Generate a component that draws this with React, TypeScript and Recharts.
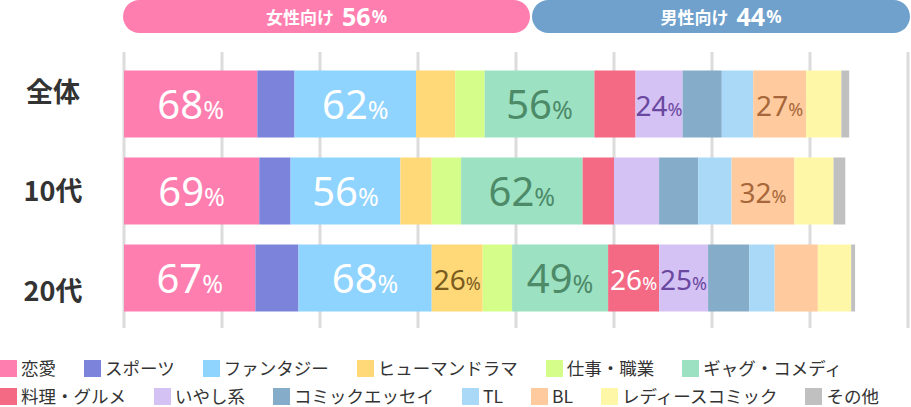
import React from "react";
import { BarChart, Bar, XAxis, YAxis, CartesianGrid, LabelList } from "recharts";

// rows (age groups)
const groups = ["全体", "10代", "20代"];

// genres, in stacking order
const genres = [
  "恋愛",
  "スポーツ",
  "ファンタジー",
  "ヒューマンドラマ",
  "仕事・職業",
  "ギャグ・コメディ",
  "料理・グルメ",
  "いやし系",
  "コミックエッセイ",
  "TL",
  "BL",
  "レディースコミック",
  "その他",
];

const genreColors = [
  "#FF7EB0",
  "#7B83DB",
  "#8FD3FF",
  "#FFD978",
  "#D5FD8A",
  "#9DE1C3",
  "#F46A85",
  "#D5C2F5",
  "#85ACC8",
  "#AAD9F8",
  "#FFCB9E",
  "#FFF7A8",
  "#C0C0C0",
];

const labelColors = [
  "#FFFFFF",
  "#FFFFFF",
  "#FFFFFF",
  "#7A5C1E",
  "#4C8A68",
  "#4C8A68",
  "#FFFFFF",
  "#6B48A0",
  "#FFFFFF",
  "#FFFFFF",
  "#A8673A",
  "#FFFFFF",
  "#FFFFFF",
];

// % per genre (multiple answers), one array per row
const valuesAll = [68, 19, 62, 20, 15, 56, 21, 24, 20, 16, 27, 18, 4];
const valuesTeens = [69, 16, 56, 16, 15, 62, 16, 23, 20, 17, 32, 20, 6];
const valuesTwenties = [67, 22, 68, 26, 15, 49, 26, 25, 21, 13, 22, 17, 2];

const xTicks = [0, 50, 100, 150, 200, 250, 300, 350, 400];

// header pills
const audienceLabels = ["女性向け", "男性向け"];
const audienceShares = [56, 44];
const audienceColors = ["#FF7EB0", "#6FA1CC"];

const rowValues = [valuesAll, valuesTeens, valuesTwenties];
const data = groups.map((g, r) => {
  const row: Record<string, any> = { group: g };
  rowValues[r].forEach((v, i) => {
    row[`s${i}`] = v;
  });
  return row;
});

const LABEL_MIN = 24;
const BIG_MIN = 40;

const makeLabel = (color: string) => (props: any) => {
  const x = Number(props.x);
  const y = Number(props.y);
  const width = Number(props.width);
  const height = Number(props.height);
  const value = Number(props.value);
  if (value < LABEL_MIN) return null;
  const big = value >= BIG_MIN;
  return (
    <text
      x={x + width / 2}
      y={y + height / 2 + (big ? 15 : 12)}
      textAnchor="middle"
      fill={color}
      fontFamily="'Noto Sans', sans-serif"
    >
      <tspan fontSize={big ? 40 : 28}>{value}</tspan>
      <tspan fontSize={big ? 25 : 18}>%</tspan>
    </text>
  );
};

const RowTick = (props: any) => {
  const { y, payload, index } = props;
  return (
    <text
      x={53}
      y={y + (index - 1) * 12.5}
      dy={10}
      textAnchor="middle"
      fill="#333"
      fontSize={27}
      fontWeight="bold"
      fontFamily="'Noto Sans CJK JP', sans-serif"
    >
      {payload.value}
    </text>
  );
};

const pillBoxes = [
  { left: 123, width: 407 },
  { left: 532, width: 378 },
];

const App: React.FC = () => {
  return (
    <div
      style={{
        position: "absolute",
        left: 0,
        top: 0,
        width: 911,
        height: 407,
        background: "#fff",
        overflow: "hidden",
        fontFamily: "'Noto Sans CJK JP', sans-serif",
      }}
    >
      {/* 女性向け / 男性向け header */}
      {audienceLabels.map((label, i) => (
        <div
          key={label}
          style={{
            position: "absolute",
            top: 0,
            left: pillBoxes[i].left,
            width: pillBoxes[i].width,
            height: 33,
            borderRadius: 17,
            background: audienceColors[i],
            color: "#fff",
            display: "flex",
            alignItems: "center",
            justifyContent: "center",
            fontWeight: "bold",
          }}
        >
          <span style={{ fontSize: 17, marginRight: 8 }}>{label}</span>
          <span style={{ fontSize: 25, fontFamily: "'Noto Sans', sans-serif", lineHeight: 1 }}>
            {audienceShares[i]}
          </span>
          <span style={{ fontSize: 17, fontFamily: "'Noto Sans', sans-serif", marginLeft: 1 }}>%</span>
        </div>
      ))}

      <div style={{ position: "absolute", left: 0, top: 0 }}>
        <BarChart
          width={911}
          height={340}
          data={data}
          layout="vertical"
          margin={{ top: 52, right: 3, left: 0, bottom: 12 }}
        >
          <CartesianGrid horizontal={false} stroke="#DCDCDC" strokeWidth={3} />
          <XAxis type="number" domain={[0, 400]} ticks={xTicks} hide />
          <YAxis
            type="category"
            dataKey="group"
            width={124}
            axisLine={false}
            tickLine={false}
            tick={<RowTick />}
            padding={{ top: 8.5, bottom: 6.5 }}
          />
          {genres.map((g, i) => (
            <Bar
              key={g}
              dataKey={`s${i}`}
              name={g}
              stackId="a"
              fill={genreColors[i]}
              barSize={67}
              isAnimationActive={false}
            >
              <LabelList dataKey={`s${i}`} content={makeLabel(labelColors[i])} />
            </Bar>
          ))}
        </BarChart>
      </div>

      {/* legend */}
      {[genres.slice(0, 6), genres.slice(6)].map((rowItems, r) => (
        <div
          key={r}
          style={{
            position: "absolute",
            left: 0,
            top: r === 0 ? 359 : 387,
            width: 911,
            display: "flex",
            flexWrap: "nowrap",
            alignItems: "center",
            height: 18,
            whiteSpace: "nowrap",
          }}
        >
          {rowItems.map((g) => {
            const idx = genres.indexOf(g);
            return (
              <div
                key={g}
                style={{ display: "flex", alignItems: "center", marginRight: 28, flexShrink: 0 }}
              >
                <div
                  style={{
                    width: 17,
                    height: 17,
                    background: genreColors[idx],
                    marginRight: 4,
                    flexShrink: 0,
                  }}
                />
                <span style={{ fontSize: 17.5, color: "#333", lineHeight: "18px" }}>{g}</span>
              </div>
            );
          })}
        </div>
      ))}
    </div>
  );
};

export default App;
